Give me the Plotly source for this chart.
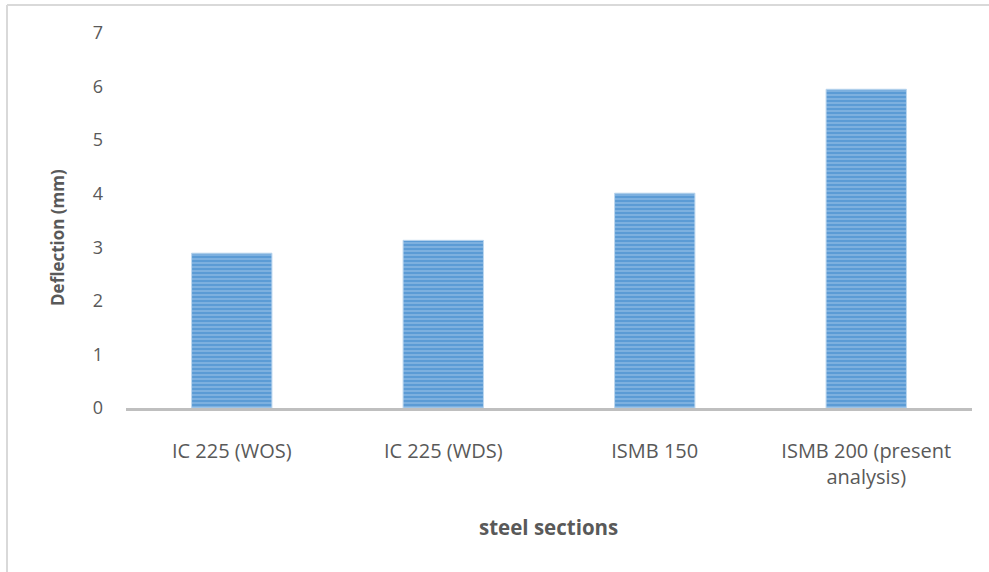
import plotly.graph_objects as go

# Deflection of each steel section
sections = ["IC 225 (WOS)", "IC 225 (WDS)", "ISMB 150", "ISMB 200 (present<br>analysis)"]
deflection_mm = [2.89, 3.13, 4.01, 5.95]
y_ticks = [0, 1, 2, 3, 4, 5, 6, 7]

W, H = 989, 572
L, R, T, B = 126, 17, 33, 164
pw, ph = W - L - R, H - T - B

font_family = "Open Sans, Liberation Sans, sans-serif"
text_color = "#595959"

fig = go.Figure(
    go.Bar(
        x=sections,
        y=deflection_mm,
        marker=dict(
            color="#5B9BD5",
            line=dict(color="#BDD7EE", width=1),
            pattern=dict(shape="-", fgcolor="#B0D0EE", bgcolor="#5B9BD5",
                         size=4, solidity=0.4),
        ),
        hoverinfo="x+y",
    )
)

fig.update_layout(
    width=W, height=H,
    margin=dict(l=L, r=R, t=T, b=B),
    paper_bgcolor="white",
    plot_bgcolor="white",
    bargap=0.62,
    showlegend=False,
    font=dict(family=font_family, size=18, color=text_color),
    xaxis=dict(
        showgrid=False, showline=True, linecolor="#BFBFBF", linewidth=3,
        ticks="", ticklabelstandoff=23, zeroline=False,
        tickfont=dict(size=20, color=text_color),
    ),
    yaxis=dict(
        range=[0, 7], tickvals=y_ticks, showgrid=False, showline=False,
        zeroline=False, ticks="", ticklabelstandoff=22,
        tickfont=dict(size=18, color=text_color),
    ),
    annotations=[
        dict(text="<b>Deflection (mm)</b>", textangle=-90,
             xref="paper", yref="paper", xanchor="center", yanchor="middle",
             x=(57 - L) / pw, y=1 - (238 - T) / ph,
             showarrow=False, font=dict(size=17, color=text_color)),
        dict(text="<b>steel sections</b>", xref="paper", yref="paper",
             xanchor="center", yanchor="middle",
             x=(548 - L) / pw, y=-(527 - (H - B)) / ph,
             showarrow=False, font=dict(size=20.5, color=text_color)),
    ],
    shapes=[
        # chart frame: top and left edges
        dict(type="line", xref="paper", yref="paper",
             x0=(7 - L) / pw, x1=(W + 5 - L) / pw,
             y0=1 + (T - 5) / ph, y1=1 + (T - 5) / ph,
             line=dict(color="#D9D9D9", width=2)),
        dict(type="line", xref="paper", yref="paper",
             x0=(7 - L) / pw, x1=(7 - L) / pw,
             y0=1 + (T - 5) / ph, y1=-(H + 5 - (H - B)) / ph,
             line=dict(color="#D9D9D9", width=2)),
    ],
)

fig.write_html("out.html")
